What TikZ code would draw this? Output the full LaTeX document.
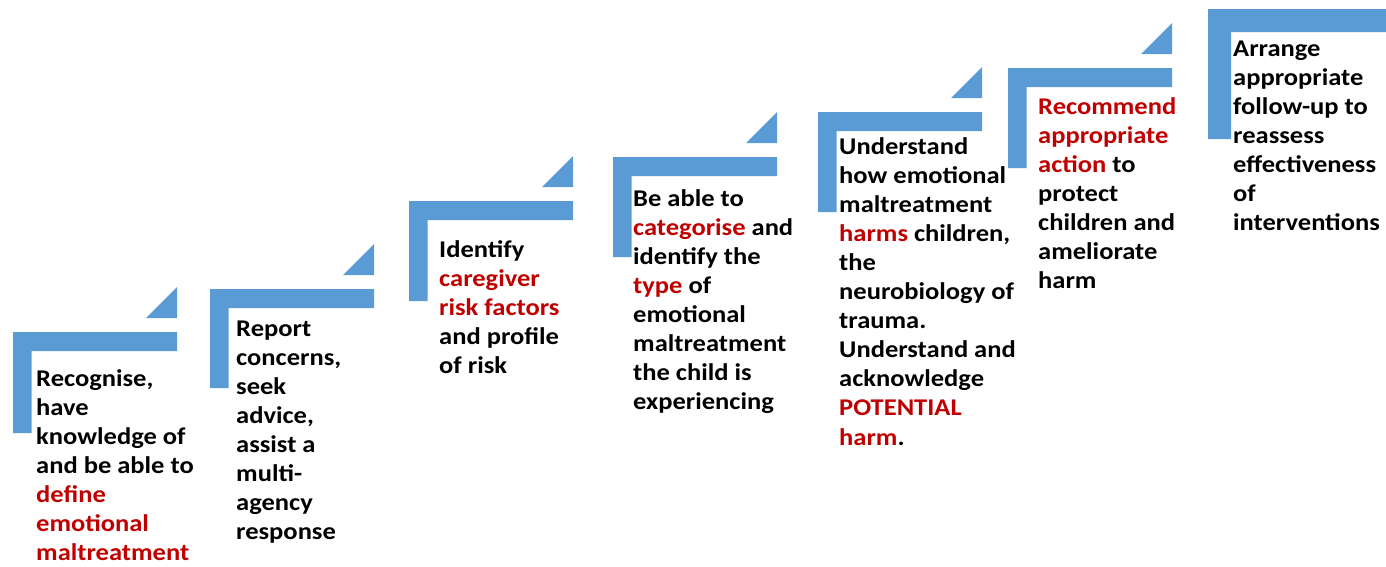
\documentclass[tikz,border=0pt]{standalone}
\usepackage{fontspec}
\setmainfont{Carlito}[FakeStretch=1.105]
\definecolor{stepblue}{HTML}{5B9BD5}
\definecolor{keyred}{HTML}{C00000}
\newcommand{\hl}[1]{\textcolor{keyred}{#1}}
\newcommand{\steptext}[1]{\parbox[t]{200pt}{\raggedright\bfseries\fontsize{24}{29.1}\selectfont #1}}
\tikzset{
  stepbar/.style={fill=stepblue},
  steplabel/.style={anchor=base west, inner sep=0pt, text=black}
}
\begin{document}
\begin{tikzpicture}[x=1pt,y=-1pt]
\useasboundingbox (0,0) rectangle (1386,566);
\begin{scope}
\clip (0,0) rectangle (1386,566);
% L-shaped step brackets with their corner triangles
\foreach \x/\y/\b in {13/332/433, 210/289/388, 409/201/301, 613/157/257, 818/112/212, 1008/68/168}{
  \fill[stepbar] (\x,\y) -- ({\x+164},\y) -- ({\x+164},{\y+19}) -- ({\x+18.5},{\y+19})
        -- ({\x+18.5},\b) -- (\x,\b) -- cycle;
  \fill[stepbar] ({\x+164},{\y-14}) -- ({\x+164},{\y-45}) -- ({\x+133},{\y-14}) -- cycle;
}
% final, larger step
\fill[stepbar] (1208,9) -- (1420,9) -- (1420,32) -- (1231,32) -- (1231,139) -- (1208,139) -- cycle;
\end{scope}

\node[steplabel] (s1) at (36,386) {\steptext{Recognise,\\have\\knowledge of\\and be able to\\\hl{define}\\\hl{emotional}\\\hl{maltreatment}}};
\node[steplabel] (s2) at (236,336) {\steptext{Report\\concerns,\\seek\\advice,\\assist a\\multi-\\agency\\response}};
\node[steplabel] (s3) at (439,257) {\steptext{Identify\\\hl{caregiver}\\\hl{risk factors}\\and profile\\of risk}};
\node[steplabel] (s4) at (633,206) {\steptext{Be able to\\\hl{categorise} and\\identify the\\\hl{type} of\\emotional\\maltreatment\\the child is\\experiencing}};
\node[steplabel] (s5) at (839,154) {\steptext{Understand\\how emotional\\maltreatment\\\hl{harms} children,\\the\\neurobiology of\\trauma.\\Understand and\\acknowledge\\\hl{POTENTIAL}\\\hl{harm}.}};
\node[steplabel] (s6) at (1038,114) {\steptext{\hl{Recommend}\\\hl{appropriate}\\\hl{action} to\\protect\\children and\\ameliorate\\harm}};
\node[steplabel] (s7) at (1233,56) {\steptext{Arrange\\appropriate\\follow-up to\\reassess\\effectiveness\\of\\interventions}};
\end{tikzpicture}
\end{document}
